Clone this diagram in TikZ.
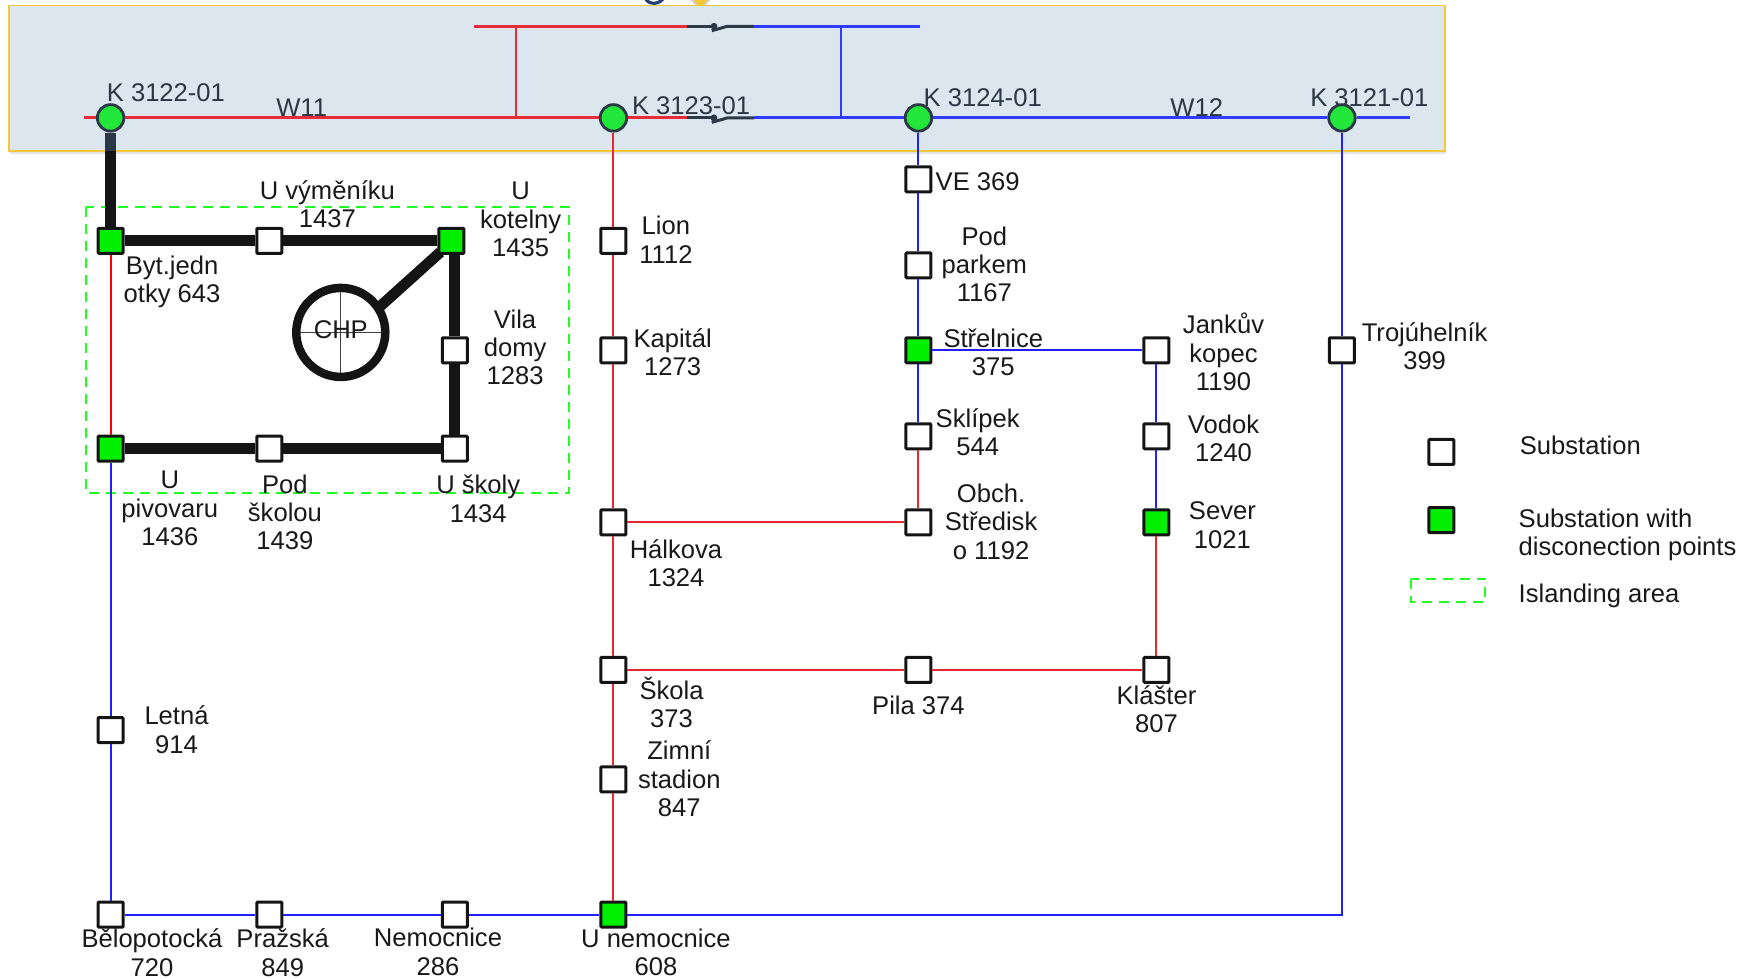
\documentclass[tikz,border=0pt]{standalone}
\usepackage{fontspec}
\setmainfont{Liberation Sans}
\usetikzlibrary{shadows}
\definecolor{bandfill}{HTML}{DCE6EF}
\definecolor{bandedge}{HTML}{F5C83C}
\definecolor{bandred}{HTML}{E62B3A}
\definecolor{bandblue}{HTML}{2F3CFF}
\definecolor{lowred}{HTML}{E8282E}
\definecolor{lowblue}{HTML}{1F1FFF}
\definecolor{bandtext}{HTML}{2B3845}
\definecolor{subgreen}{HTML}{00F000}
\definecolor{kgreen}{HTML}{22E63A}
\definecolor{islegreen}{HTML}{22FF22}
\definecolor{titleblue}{HTML}{1F3F78}
\tikzset{
  subst/.style={draw=black!92,line width=3pt,fill=white,rounded corners=.8pt,minimum size=25pt,inner sep=0pt},
  substg/.style={subst,fill=subgreen},
  knode/.style={circle,draw=bandtext,line width=2.8pt,fill=kgreen,minimum size=26.5pt,inner sep=0pt},
  rbus/.style={draw=bandred,line width=3pt},
  bbus/.style={draw=bandblue,line width=3pt},
  rline/.style={draw=lowred,line width=2pt},
  bline/.style={draw=lowblue,line width=2pt},
  heavy/.style={draw=black!92,line width=10.8pt},
  swline/.style={draw=bandtext,line width=3pt},
  lbl/.style={align=center,inner sep=0pt,text=black!90},
  blbl/.style={align=center,inner sep=0pt,text=bandtext},
  isle/.style={draw=islegreen,line width=1.7pt,dash pattern=on 10pt off 7pt},
}
\begin{document}
\begin{tikzpicture}[x=1.11735pt,y=-1.11735pt,font=\fontsize{25.6}{28.3}\selectfont]
\useasboundingbox (0,0) rectangle (1568,876);
\fill[white] (0,0) rectangle (1568,876);
% top marker and cut-off title
\begin{scope}
\clip (0,0) rectangle (1568,876);
\draw[titleblue,line width=3.2pt] (578,-1) .. controls (580,4.5) and (592,4.5) .. (594,-3);
\fill[bandedge,rounded corners=2pt,drop shadow={opacity=.35,shadow xshift=0pt,shadow yshift=-3pt}] (627,7) -- (615,-6) -- (639,-6) -- cycle;
\end{scope}
% band
\path[fill=bandfill,draw=bandedge,line width=1.8pt,drop shadow={opacity=.22,shadow xshift=1pt,shadow yshift=-3pt}] (8,5) rectangle (1293,135);
\begin{scope}[shift={(0,0.5)}]
% islanding area
\draw[isle] (77,185) rectangle (509,441);
% coordinates
\coordinate (busL) at (75,105);
\coordinate (busR) at (1262,105);
\coordinate (sw1a) at (615,105);
\coordinate (sw1b) at (639,105);
\coordinate (sw1c) at (651,105);
\coordinate (sw1d) at (675,105);
\coordinate (sw1e) at (637,109);
\coordinate (top1) at (424,23);
\coordinate (sw2a) at (615,23);
\coordinate (sw2b) at (639,23);
\coordinate (sw2c) at (651,23);
\coordinate (sw2d) at (675,23);
\coordinate (sw2e) at (637,27);
\coordinate (top2) at (823,23);
\coordinate (tapRt) at (462,23);
\coordinate (tapRb) at (462,105);
\coordinate (tapBt) at (753,23);
\coordinate (tapBb) at (753,105);
\coordinate (bandExit) at (99,135);
\coordinate (corner) at (1201,818);
% K nodes
\node[knode] (k1) at (99,105) {};
\node[knode] (k2) at (549,105) {};
\node[knode] (k3) at (822,105) {};
\node[knode] (k4) at (1201,105) {};
% substations
\node[substg] (byt) at (99,215) {};
\node[subst] (vym) at (241,215) {};
\node[substg] (kot) at (404,215) {};
\node[subst] (vila) at (407,313) {};
\node[subst] (skoly) at (407,401) {};
\node[subst] (podsk) at (241,401) {};
\node[substg] (piv) at (99,401) {};
\node[subst] (letna) at (99,653) {};
\node[subst] (belo) at (99,818) {};
\node[subst] (praz) at (241,818) {};
\node[subst] (nem) at (407,818) {};
\node[substg] (unem) at (549,818) {};
\node[subst] (lion) at (549,215) {};
\node[subst] (kap) at (549,313) {};
\node[subst] (halk) at (549,467) {};
\node[subst] (skola) at (549,599) {};
\node[subst] (zimni) at (549,697) {};
\node[subst] (ve) at (822,160) {};
\node[subst] (park) at (822,237) {};
\node[substg] (strel) at (822,313) {};
\node[subst] (sklip) at (822,390) {};
\node[subst] (obch) at (822,467) {};
\node[subst] (pila) at (822,599) {};
\node[subst] (jank) at (1035,313) {};
\node[subst] (vodok) at (1035,390) {};
\node[substg] (sever) at (1035,467) {};
\node[subst] (klas) at (1035,599) {};
\node[subst] (troj) at (1201,313) {};
\node[subst] (legA) at (1290,404) {};
\node[substg] (legB) at (1290,465) {};
% CHP
\node[circle,draw=black!92,line width=8.5pt,fill=white,minimum size=89pt,inner sep=0pt,outer sep=0pt,drop shadow={opacity=.35,shadow xshift=1pt,shadow yshift=-4pt}] (chp) at (305,297) {};
\draw[black!75,line width=1.3pt,shorten <=4pt,shorten >=4pt] (chp.north) -- (chp.south);
\draw[black!75,line width=1.3pt,shorten <=4pt,shorten >=4pt] (chp.west) -- (chp.east);
\draw[heavy,shorten >=-4pt] (chp.33) -- (kot.south west);
% bus bars
\draw[rbus] (busL) -- (k1);
\draw[rbus] (k1) -- (k2);
\draw[rbus] (k2) -- (sw1a);
\draw[swline] (sw1a) -- (sw1b);
\fill[bandtext] (sw1b) circle (3.4pt);
\draw[swline] (sw1e) -- (sw1c) -- (sw1d);
\draw[bbus] (sw1d) -- (k3);
\draw[bbus] (k3) -- (k4);
\draw[bbus] (k4) -- (busR);
\draw[rbus] (top1) -- (sw2a);
\draw[swline] (sw2a) -- (sw2b);
\fill[bandtext] (sw2b) circle (3.4pt);
\draw[swline] (sw2e) -- (sw2c) -- (sw2d);
\draw[bbus] (sw2d) -- (top2);
\draw[rline,draw=bandred] (tapRt) -- (tapRb);
\draw[bline,draw=bandblue] (tapBt) -- (tapBb);
% heavy island ring
\draw[heavy] (bandExit) -- (byt);
\draw[heavy,draw=bandtext] (k1) -- (bandExit);
\draw[heavy] (byt) -- (vym);
\draw[heavy] (vym) -- (kot);
\draw[heavy] (kot.south -| vila) -- (vila);
\draw[heavy] (vila) -- (skoly);
\draw[heavy] (skoly) -- (podsk);
\draw[heavy] (podsk) -- (piv);
% feeders
\draw[rline,draw=red] (byt) -- (piv);
\draw[bline] (piv) -- (letna);
\draw[bline] (letna) -- (belo);
\draw[bline] (belo) -- (praz);
\draw[bline] (praz) -- (nem);
\draw[bline] (nem) -- (unem);
\draw[bline] (unem) -- (corner) -- (troj);
\draw[bline] (troj) -- (k4);
\draw[rline] (k2) -- (lion);
\draw[rline] (lion) -- (kap);
\draw[rline] (kap) -- (halk);
\draw[rline] (halk) -- (skola);
\draw[rline] (skola) -- (zimni);
\draw[rline] (zimni) -- (unem);
\draw[rline] (halk) -- (obch);
\draw[rline] (obch) -- (sklip);
\draw[bline] (k3) -- (ve);
\draw[bline] (ve) -- (park);
\draw[bline] (park) -- (strel);
\draw[bline] (strel) -- (sklip);
\draw[bline] (strel) -- (jank);
\draw[bline] (jank) -- (vodok);
\draw[bline] (vodok) -- (sever);
\draw[rline] (sever) -- (klas);
\draw[rline] (klas) -- (pila);
\draw[rline] (pila) -- (skola);
\end{scope}
% band labels
\node[blbl] (tk1) at (148.5,83) {K 3122-01};
\node[blbl] (tw11) at (270,96) {W11};
\node[blbl] (tk2) at (618.5,95) {K 3123-01};
\node[blbl] (tk3) at (879.5,87) {K 3124-01};
\node[blbl] (tw12) at (1071,96) {W12};
\node[blbl] (tk4) at (1225.5,87) {K 3121-01};
% labels
\node[lbl] (tchp) at (305,295) {CHP};
\node[lbl] (t01) at (293,183) {U výměníku\\1437};
\node[lbl] (t02) at (466,196.5) {U\\kotelny\\1435};
\node[lbl] (t03) at (154,252) {Byt.jedn\\otky 643};
\node[lbl] (t04) at (461,311) {Vila\\domy\\1283};
\node[lbl] (t05) at (152,455) {U\\pivovaru\\1436};
\node[lbl] (t06) at (255,458.5) {Pod\\školou\\1439};
\node[lbl] (t07) at (428,446.5) {U školy\\1434};
\node[lbl] (t08) at (596,214.5) {Lion\\1112};
\node[lbl] (t09) at (602,315) {Kapitál\\1273};
\node[lbl] (t10) at (605,504) {Hálkova\\1324};
\node[lbl] (t11) at (601,628.5) {Škola\\373};
\node[lbl] (t12) at (608,697) {Zimní\\stadion\\847};
\node[lbl] (t13) at (822,631.5) {Pila 374};
\node[lbl] (t14) at (1035,635) {Klášter\\807};
\node[lbl] (t15) at (875,162.5) {VE 369};
\node[lbl] (t16) at (881,236.5) {Pod\\parkem\\1167};
\node[lbl] (t17) at (889,315.5) {Střelnice\\375};
\node[lbl] (t18) at (875,387) {Sklípek\\544};
\node[lbl] (t19) at (887,467) {Obch.\\Středisk\\o 1192};
\node[lbl] (t20) at (1095,315) {Jankův\\kopec\\1190};
\node[lbl] (t21) at (1095,392.5) {Vodok\\1240};
\node[lbl] (t22) at (1094,470) {Sever\\1021};
\node[lbl] (t23) at (1275,310) {Trojúhelník\\399};
\node[lbl] (t24) at (158,653) {Letná\\914};
\node[lbl] (t25) at (136,852.5) {Bělopotocká\\720};
\node[lbl] (t26) at (253,852.5) {Pražská\\849};
\node[lbl] (t27) at (392,852) {Nemocnice\\286};
\node[lbl] (t28) at (587,852.5) {U nemocnice\\608};
% legend
\draw[isle] (1263,518) rectangle (1329,539);
\node[lbl,anchor=west] (l1) at (1360,399) {Substation};
\node[lbl,anchor=west,align=left] (l2) at (1359,479) {Substation with\\disconection points};
\node[lbl,anchor=west] (l3) at (1359,533.5) {Islanding area};
\end{tikzpicture}
\end{document}
